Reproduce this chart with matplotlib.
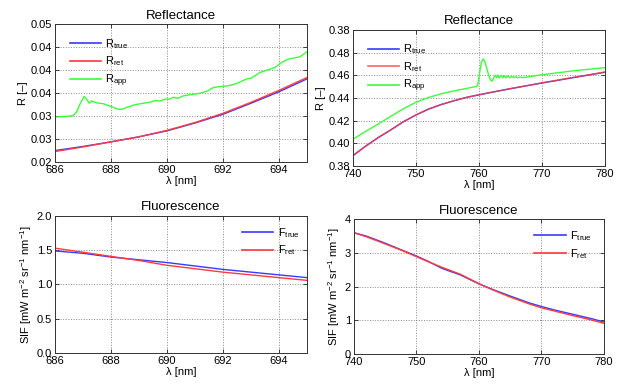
import numpy as np
import matplotlib.pyplot as plt

plt.rcParams['font.family'] = ['Liberation Sans', 'DejaVu Sans']
plt.rcParams['mathtext.fontset'] = 'custom'
plt.rcParams['mathtext.rm'] = 'Liberation Sans'
plt.rcParams['mathtext.it'] = 'Liberation Sans'

# --- red band (686-695 nm) ---
wl_red = [686, 687, 688, 689, 690, 691, 692, 693, 694, 695]
r_true_red = [0.0225, 0.0234, 0.0244, 0.0255, 0.0268, 0.0285, 0.0304, 0.0328, 0.0353, 0.0381]
r_ret_red = [0.0223, 0.0233, 0.0244, 0.0255, 0.0269, 0.0286, 0.0306, 0.0330, 0.0356, 0.0384]

wl_app_red = [686.0, 686.3, 686.65, 686.77, 686.9, 687.04, 687.13, 687.23, 687.3, 687.5, 687.73,
              687.96, 688.26, 688.4, 688.56, 688.86, 689.15, 689.45, 689.57, 689.75, 689.93,
              690.1, 690.23, 690.4, 690.58, 690.76, 691.12, 691.42, 691.65, 691.83, 692.19,
              692.49, 692.85, 693.02, 693.32, 693.62, 693.86, 694.1, 694.33, 694.57, 694.75, 695.0]
r_app_red = [0.0298, 0.0299, 0.0301, 0.0309, 0.0327, 0.0343, 0.0337, 0.0328, 0.0333, 0.0329, 0.0327,
             0.0322, 0.0315, 0.0315, 0.0319, 0.0325, 0.0328, 0.0331, 0.0334, 0.0333, 0.0337,
             0.0337, 0.0341, 0.0339, 0.0344, 0.0346, 0.0349, 0.0354, 0.0362, 0.0364, 0.0366,
             0.0371, 0.0381, 0.0383, 0.0395, 0.0401, 0.0406, 0.0417, 0.0424, 0.0427, 0.0429, 0.0440]

f_true_red = [1.49, 1.455, 1.40, 1.36, 1.32, 1.27, 1.22, 1.18, 1.14, 1.10]
f_ret_red = [1.53, 1.47, 1.41, 1.35, 1.28, 1.23, 1.18, 1.14, 1.10, 1.06]

# --- far-red band (740-780 nm) ---
wl_far = [740, 742, 744, 746, 748, 750, 752, 754, 756, 758, 760, 762, 765, 768, 770, 772, 775, 778, 780]
r_true_far = [0.3892, 0.3975, 0.4050, 0.4118, 0.4190, 0.4250, 0.4302, 0.4342, 0.4375, 0.4405, 0.4428,
              0.4450, 0.4482, 0.4512, 0.4532, 0.4551, 0.4580, 0.4608, 0.4627]
r_ret_far = [0.3890, 0.3974, 0.4050, 0.4118, 0.4190, 0.4250, 0.4302, 0.4342, 0.4375, 0.4405, 0.4428,
             0.4450, 0.4483, 0.4513, 0.4534, 0.4553, 0.4582, 0.4610, 0.4630]

wl_app_far = [740, 742, 744, 746, 748, 750, 752, 754, 756, 758, 759.6, 759.8, 760.1, 760.4, 760.7,
              761.0, 761.3, 761.6, 761.9, 762.1, 762.4, 762.6, 762.8, 763.0, 763.2, 763.5, 763.8,
              764.0, 764.3, 764.6, 764.9, 765.2, 765.5, 765.8, 766.1, 766.5, 767.0, 770, 775, 780]
r_app_far = [0.4036, 0.4105, 0.4170, 0.4238, 0.4305, 0.4362, 0.4405, 0.4437, 0.4462, 0.4484, 0.4502,
             0.4512, 0.4620, 0.4720, 0.4745, 0.4710, 0.4650, 0.4590, 0.4555, 0.4550, 0.4585, 0.4600,
             0.4580, 0.4603, 0.4577, 0.4600, 0.4578, 0.4597, 0.4578, 0.4594, 0.4578, 0.4591, 0.4579,
             0.4588, 0.4579, 0.4584, 0.4580, 0.4605, 0.4640, 0.4668]

wl_f_far = [740, 742, 745, 748, 750, 752, 754, 755, 757, 760, 762, 765, 768, 770, 772, 775, 778, 780]
f_true_far = [3.60, 3.50, 3.29, 3.06, 2.91, 2.74, 2.55, 2.48, 2.35, 2.08, 1.93, 1.72, 1.52, 1.41, 1.31, 1.18, 1.05, 0.95]
f_ret_far = [3.60, 3.48, 3.27, 3.05, 2.89, 2.73, 2.58, 2.51, 2.37, 2.09, 1.92, 1.69, 1.49, 1.37, 1.28, 1.14, 1.01, 0.91]

# tick labels as printed on the original
yt_red = [0.020, 0.025, 0.030, 0.035, 0.040, 0.045, 0.050]
yt_red_lab = ['0.02', '0.03', '0.03', '0.04', '0.04', '0.04', '0.05']
yt_far = [0.38, 0.40, 0.42, 0.44, 0.46, 0.48, 0.50]
yt_far_lab = ['0.38', '0.40', '0.42', '0.44', '0.46', '0.48', '0.38']

BLUE, RED, GREEN = '#3a3aff', '#ff3a3a', '#3aff3a'
LW = 1.0

fig = plt.figure(figsize=(6.22, 3.85), dpi=100)


def style(ax, title, xlabel, ylabel):
    ax.set_title(title, fontsize=9.5, pad=4)
    ax.set_xlabel(xlabel, fontsize=8, labelpad=1)
    ax.set_ylabel(ylabel, fontsize=8, labelpad=2)
    ax.tick_params(direction='in', top=True, right=True, labelsize=8, length=3, width=0.5, pad=2)
    ax.grid(True, linestyle=':', color='#888888', linewidth=0.7)
    for s in ax.spines.values():
        s.set_linewidth(0.7)
        s.set_color('#333333')


def legend(ax, loc, anchor):
    leg = ax.legend(loc=loc, bbox_to_anchor=anchor, frameon=False, fontsize=8,
                    handlelength=2.8, handletextpad=0.4, labelspacing=0.35, borderaxespad=0)
    for h in leg.get_lines():
        h.set_linewidth(1.2)


ylab_sif = 'SIF [mW m$^{-2}$ sr$^{-1}$ nm$^{-1}$]'

# top left
ax1 = fig.add_axes([0.0884, 0.579, 0.405, 0.358])
ax1.plot(wl_red, r_true_red, color=BLUE, lw=LW, label='R$_{\\mathrm{true}}$')
ax1.plot(wl_red, r_ret_red, color=RED, lw=LW, label='R$_{\\mathrm{ret}}$')
ax1.plot(wl_app_red, r_app_red, color=GREEN, lw=LW, label='R$_{\\mathrm{app}}$')
ax1.set_xlim(686, 695)
ax1.set_ylim(0.02, 0.05)
ax1.set_xticks([686, 688, 690, 692, 694])
ax1.set_yticks(yt_red)
ax1.set_yticklabels(yt_red_lab)
style(ax1, 'Reflectance', 'λ [nm]', 'R [–]')
legend(ax1, 'upper left', (0.04, 0.94))

# top right
ax2 = fig.add_axes([0.5675, 0.569, 0.405, 0.353])
ax2.plot(wl_far, r_true_far, color=BLUE, lw=LW, label='R$_{\\mathrm{true}}$')
ax2.plot(wl_far, r_ret_far, color=RED, lw=LW, alpha=0.8, label='R$_{\\mathrm{ret}}$')
ax2.plot(wl_app_far, r_app_far, color=GREEN, lw=LW, label='R$_{\\mathrm{app}}$')
ax2.set_xlim(740, 780)
ax2.set_ylim(0.38, 0.50)
ax2.set_xticks([740, 750, 760, 770, 780])
ax2.set_yticks(yt_far)
ax2.set_yticklabels(yt_far_lab)
style(ax2, 'Reflectance', 'λ [nm]', 'R [–]')
legend(ax2, 'upper left', (0.04, 0.94))

# bottom left
ax3 = fig.add_axes([0.0884, 0.0831, 0.405, 0.356])
ax3.plot(wl_red, f_true_red, color=BLUE, lw=LW, label='F$_{\\mathrm{true}}$')
ax3.plot(wl_red, f_ret_red, color=RED, lw=LW, label='F$_{\\mathrm{ret}}$')
ax3.set_xlim(686, 695)
ax3.set_ylim(0, 2)
ax3.set_xticks([686, 688, 690, 692, 694])
ax3.set_yticks([0, 0.5, 1.0, 1.5, 2.0])
ax3.set_yticklabels(['0.0', '0.5', '1.0', '1.5', '2.0'])
style(ax3, 'Fluorescence', 'λ [nm]', ylab_sif)
legend(ax3, 'upper right', (0.99, 0.96))

# bottom right
ax4 = fig.add_axes([0.569, 0.0805, 0.402, 0.35])
ax4.plot(wl_f_far, f_true_far, color=BLUE, lw=LW, label='F$_{\\mathrm{true}}$')
ax4.plot(wl_f_far, f_ret_far, color=RED, lw=LW, label='F$_{\\mathrm{ret}}$')
ax4.set_xlim(740, 780)
ax4.set_ylim(0, 4)
ax4.set_xticks([740, 750, 760, 770, 780])
ax4.set_yticks([0, 1, 2, 3, 4])
style(ax4, 'Fluorescence', 'λ [nm]', ylab_sif)
legend(ax4, 'upper right', (0.97, 0.96))

fig.savefig('out.png', dpi=100)
